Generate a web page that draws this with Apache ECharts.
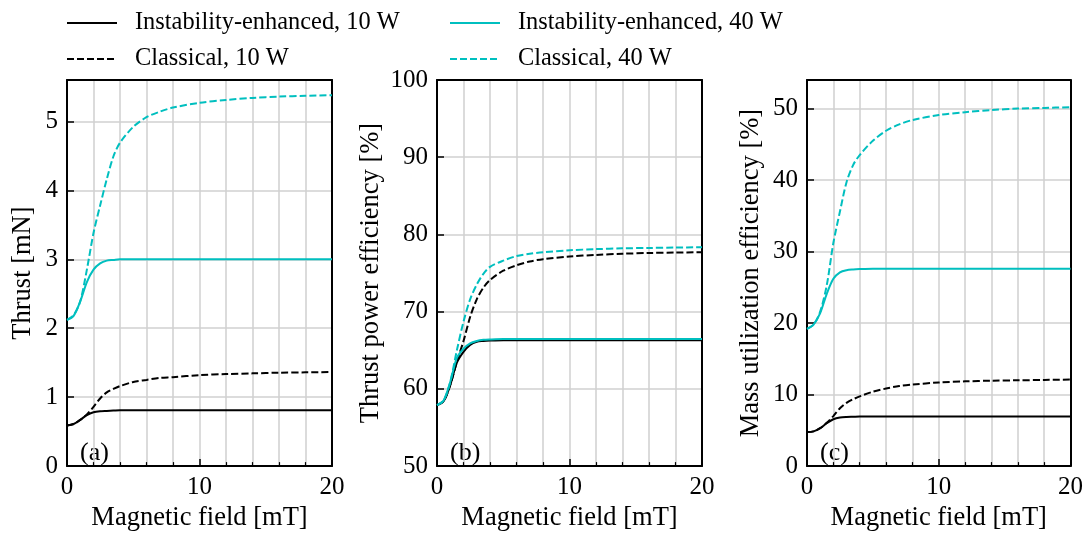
<!DOCTYPE html>
<html>
<head>
<meta charset="utf-8">
<script src="https://cdn.jsdelivr.net/npm/echarts@6/dist/echarts.min.js"></script>
<style>
html,body{margin:0;padding:0;background:#fff;}
#chart{width:1086px;height:537px;}
</style>
</head>
<body>
<div id="chart"></div>
<script>
// Magnetic field [mT]
var xs = [0, 0.5, 1, 1.5, 2, 2.5, 3, 3.5, 4, 5, 6, 7, 8, 10, 12, 14, 16, 18, 20];

// (a) Thrust [mN]
var thrustIE10 = [0.59, 0.61, 0.67, 0.74, 0.78, 0.795, 0.80, 0.805, 0.81, 0.81, 0.81, 0.81, 0.81, 0.81, 0.81, 0.81, 0.81, 0.81, 0.81];
var thrustCL10 = [0.59, 0.61, 0.67, 0.75, 0.86, 0.98, 1.07, 1.12, 1.16, 1.22, 1.25, 1.28, 1.29, 1.32, 1.335, 1.345, 1.355, 1.36, 1.365];
var thrustIE40 = [2.12, 2.18, 2.39, 2.67, 2.85, 2.94, 2.98, 2.99, 3.0, 3.0, 3.0, 3.0, 3.0, 3.0, 3.0, 3.0, 3.0, 3.0, 3.0];
var thrustCL40 = [2.12, 2.19, 2.39, 2.85, 3.38, 3.78, 4.16, 4.49, 4.69, 4.92, 5.06, 5.14, 5.2, 5.27, 5.31, 5.34, 5.36, 5.37, 5.38];

// (b) Thrust power efficiency [%]
var effIE10 = [57.9, 58.4, 60.5, 63.4, 64.8, 65.7, 66.1, 66.2, 66.25, 66.3, 66.3, 66.3, 66.3, 66.3, 66.3, 66.3, 66.3, 66.3, 66.3];
var effCL10 = [57.9, 58.4, 60.5, 63.5, 66.2, 69.3, 71.6, 73.1, 74.1, 75.3, 76.0, 76.5, 76.8, 77.15, 77.35, 77.5, 77.6, 77.65, 77.7];
var effIE40 = [57.9, 58.5, 60.9, 64.0, 65.2, 65.9, 66.2, 66.35, 66.4, 66.45, 66.45, 66.45, 66.45, 66.45, 66.45, 66.45, 66.45, 66.45, 66.45];
var effCL40 = [57.9, 58.5, 60.9, 65.0, 68.7, 71.6, 73.5, 74.9, 75.8, 76.6, 77.2, 77.5, 77.7, 77.95, 78.1, 78.2, 78.25, 78.3, 78.35];

// (c) Mass utilization efficiency [%]
var massIE10 = [4.77, 4.86, 5.3, 6.0, 6.55, 6.8, 6.88, 6.9, 6.92, 6.93, 6.93, 6.93, 6.93, 6.93, 6.93, 6.93, 6.93, 6.93, 6.93];
var massCL10 = [4.77, 4.86, 5.3, 6.05, 7.0, 8.1, 8.85, 9.35, 9.75, 10.4, 10.85, 11.2, 11.4, 11.7, 11.85, 11.95, 12.0, 12.05, 12.1];
var massIE40 = [19.2, 19.8, 21.4, 24.1, 26.2, 27.1, 27.4, 27.5, 27.55, 27.6, 27.6, 27.6, 27.6, 27.6, 27.6, 27.6, 27.6, 27.6, 27.6];
var massCL40 = [19.2, 19.8, 21.6, 25.3, 31.2, 35.6, 39.7, 42.1, 43.5, 45.5, 46.9, 47.8, 48.4, 49.1, 49.5, 49.8, 50.0, 50.1, 50.2];

var seriesNames = ['Instability-enhanced, 10 W', 'Classical, 10 W', 'Instability-enhanced, 40 W', 'Classical, 40 W'];
var yNames = ['Thrust [mN]', 'Thrust power efficiency [%]', 'Mass utilization efficiency [%]'];
var yMins = [0, 50, 0];
var yMaxs = [5.6, 100, 54];
var yIntervals = [1, 10, 10];
var panelLabels = ['(a)', '(b)', '(c)'];

var FONT = 'Liberation Serif';
var CYAN = '#00bfbf';
var panels = [
  [thrustIE10, thrustCL10, thrustIE40, thrustCL40],
  [effIE10, effCL10, effIE40, effCL40],
  [massIE10, massCL10, massIE40, massCL40]
];
var gridLefts = [67, 437, 807];
var yNameGaps = [30, 52, 42];
var styles = [
  {color: '#000', type: 'solid'},
  {color: '#000', type: [7, 3]},
  {color: CYAN, type: 'solid'},
  {color: CYAN, type: [7, 3]}
];

function pairs(arr) { return xs.map(function (x, i) { return [x, arr[i]]; }); }

var grids = [], xAxes = [], yAxes = [], series = [], graphics = [];
var gridLine = {color: '#d0d0d0', width: 1.5};
for (var p = 0; p < 3; p++) {
  grids.push({left: gridLefts[p], width: 265, top: 80, height: 392, containLabel: false});
  xAxes.push({
    type: 'value', gridIndex: p, min: 0, max: 20, interval: 10,
    name: 'Magnetic field [mT]', nameLocation: 'middle', nameGap: 38,
    nameTextStyle: {fontFamily: FONT, fontSize: 26.5, color: '#000'},
    axisLine: {show: true, onZero: false, lineStyle: {color: '#000', width: 2}},
    axisTick: {show: true, inside: true, length: 7, lineStyle: {color: '#000', width: 1.5}},
    minorTick: {show: true, splitNumber: 5, length: 4, lineStyle: {color: '#000', width: 1.2}},
    splitLine: {show: true, lineStyle: gridLine},
    minorSplitLine: {show: true, lineStyle: gridLine},
    axisLabel: {fontFamily: FONT, fontSize: 25, color: '#000', margin: 9}
  });
  xAxes.push({
    type: 'value', gridIndex: p, min: 0, max: 20, position: 'top',
    axisLine: {show: true, onZero: false, lineStyle: {color: '#000', width: 2}},
    axisTick: {show: false}, axisLabel: {show: false}, splitLine: {show: false}
  });
  yAxes.push({
    type: 'value', gridIndex: p, min: yMins[p], max: yMaxs[p], interval: yIntervals[p],
    name: yNames[p], nameLocation: 'middle', nameGap: yNameGaps[p],
    nameTextStyle: {fontFamily: FONT, fontSize: 26.5, color: '#000'},
    axisLine: {show: true, onZero: false, lineStyle: {color: '#000', width: 2}},
    axisTick: {show: true, inside: true, length: 7, lineStyle: {color: '#000', width: 1.5}},
    splitLine: {show: true, lineStyle: gridLine},
    axisLabel: {fontFamily: FONT, fontSize: 25, color: '#000', margin: 9, showMaxLabel: p === 1}
  });
  yAxes.push({
    type: 'value', gridIndex: p, min: yMins[p], max: yMaxs[p], position: 'right',
    axisLine: {show: true, onZero: false, lineStyle: {color: '#000', width: 2}},
    axisTick: {show: false}, axisLabel: {show: false}, splitLine: {show: false}
  });
  for (var s = 0; s < 4; s++) {
    series.push({
      name: seriesNames[s], type: 'line', xAxisIndex: p * 2, yAxisIndex: p * 2,
      data: pairs(panels[p][s]), showSymbol: false, symbol: 'none',
      smooth: 0.3,
      lineStyle: {color: styles[s].color, type: styles[s].type, width: 2},
      itemStyle: {color: styles[s].color},
      z: 3
    });
  }
  graphics.push({
    type: 'text', left: gridLefts[p] + 13, top: 440,
    style: {text: panelLabels[p], fontFamily: FONT, fontSize: 26, fill: '#000'}
  });
}

var legendText = {fontFamily: FONT, fontSize: 24.4, color: '#000', lineHeight: 24, padding: [0, 0, 0, 13]};
var legendCommon = {
  top: 11, padding: 0, orient: 'vertical', itemWidth: 50, itemHeight: 14, itemGap: 12,
  itemStyle: {opacity: 0}, textStyle: legendText
};
var option = {
  animation: false,
  backgroundColor: '#fff',
  legend: [
    Object.assign({left: 66, data: [seriesNames[0], seriesNames[1]]}, legendCommon),
    Object.assign({left: 449, data: [seriesNames[2], seriesNames[3]]}, legendCommon)
  ],
  grid: grids,
  xAxis: xAxes,
  yAxis: yAxes,
  series: series,
  graphic: graphics
};
var chart = echarts.init(document.getElementById('chart'), null, {renderer: 'canvas'});
chart.setOption(option);
</script>
</body>
</html>
